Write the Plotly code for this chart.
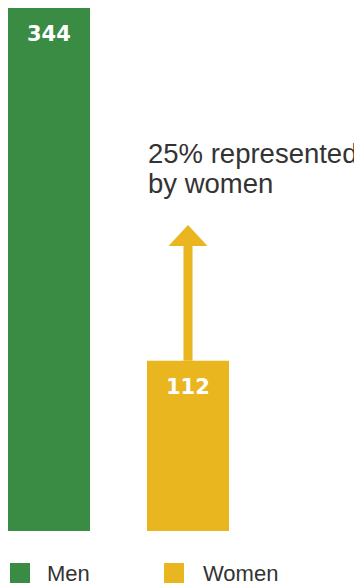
import plotly.graph_objects as go

# Data
categories = ["Men", "Women"]
values = [344, 112]
colors = ["#3A8C44", "#EAB61F"]
note_lines = ["25% represented", "by women"]

# page has an 8px body margin; work in page pixels and convert
OFF = 8
PAGE_W, PAGE_H = 362, 583
W, H = PAGE_W - OFF, PAGE_H - OFF
PLOT_TOP, PLOT_BOT = 8, 531          # page pixels
plot_h = PLOT_BOT - PLOT_TOP          # 523
UNIT = 139                            # px between category centers
X0_PAGE = 49                          # page x of first category center

def py(pix):
    """page pixel y -> paper y"""
    return (PLOT_BOT - pix) / plot_h

def px(pix):
    """page pixel x -> paper x"""
    return (pix - OFF) / W

def dy(pix):
    """page pixel y -> data y"""
    return (PLOT_BOT - pix) / plot_h * max(values)

fig = go.Figure()
fig.add_trace(go.Bar(
    x=list(range(len(categories))),
    y=values,
    marker=dict(color=colors, line=dict(width=0)),
    width=82 / UNIT,
    showlegend=False,
    hoverinfo="skip",
))

annotations = []
# value labels inside bars
for i, v in enumerate(values):
    annotations.append(dict(
        x=i, y=v, xref="x", yref="y", text=str(v), showarrow=False,
        yanchor="middle", xanchor="center", yshift=-26,
        font=dict(family="DejaVu Sans", size=21, color="white", weight="bold"),
    ))

# note text
note_centers = [154.0, 183.5]
for line, c in zip(note_lines, note_centers):
    annotations.append(dict(
        x=px(146), y=py(c), xref="paper", yref="paper", text=line,
        showarrow=False, xanchor="left", yanchor="middle",
        font=dict(family="Liberation Sans", size=27.5, color="#333333"),
    ))

# custom legend
legend_sq = [(10, 30), (164, 184)]
legend_txt_x = [45, 201]
shapes = []
for cat, col, (a, b), tx in zip(categories, colors, legend_sq, legend_txt_x):
    shapes.append(dict(type="rect", xref="paper", yref="paper",
                       x0=px(a), x1=px(b), y0=py(563), y1=py(584),
                       fillcolor=col, line=dict(width=0)))
    annotations.append(dict(
        x=px(tx), y=py(573.4), xref="paper", yref="paper", text=cat,
        showarrow=False, xanchor="left", yanchor="middle",
        font=dict(family="Liberation Sans", size=22, color="#333333"),
    ))

# arrow from Women bar upward
arrow_x = 1
half_w = 19.5 / UNIT
shapes.append(dict(type="line", xref="x", yref="y",
                   x0=arrow_x, x1=arrow_x, y0=values[1], y1=dy(246),
                   line=dict(color=colors[1], width=9)))
shapes.append(dict(type="path", xref="x", yref="y",
                   path=f"M {arrow_x - half_w},{dy(246)} L {arrow_x + half_w},{dy(246)} L {arrow_x},{dy(225)} Z",
                   fillcolor=colors[1], line=dict(width=0)))

x_start = -(X0_PAGE - OFF) / UNIT
fig.update_layout(
    width=W, height=H,
    margin=dict(l=0, r=0, t=PLOT_TOP - OFF, b=PAGE_H - PLOT_BOT, pad=0),
    paper_bgcolor="white", plot_bgcolor="white",
    xaxis=dict(range=[x_start, x_start + W / UNIT], visible=False, fixedrange=True),
    yaxis=dict(range=[0, max(values)], visible=False, fixedrange=True),
    annotations=annotations,
    shapes=shapes,
    showlegend=False,
)

fig.write_html("out.html", config={"displayModeBar": False})
